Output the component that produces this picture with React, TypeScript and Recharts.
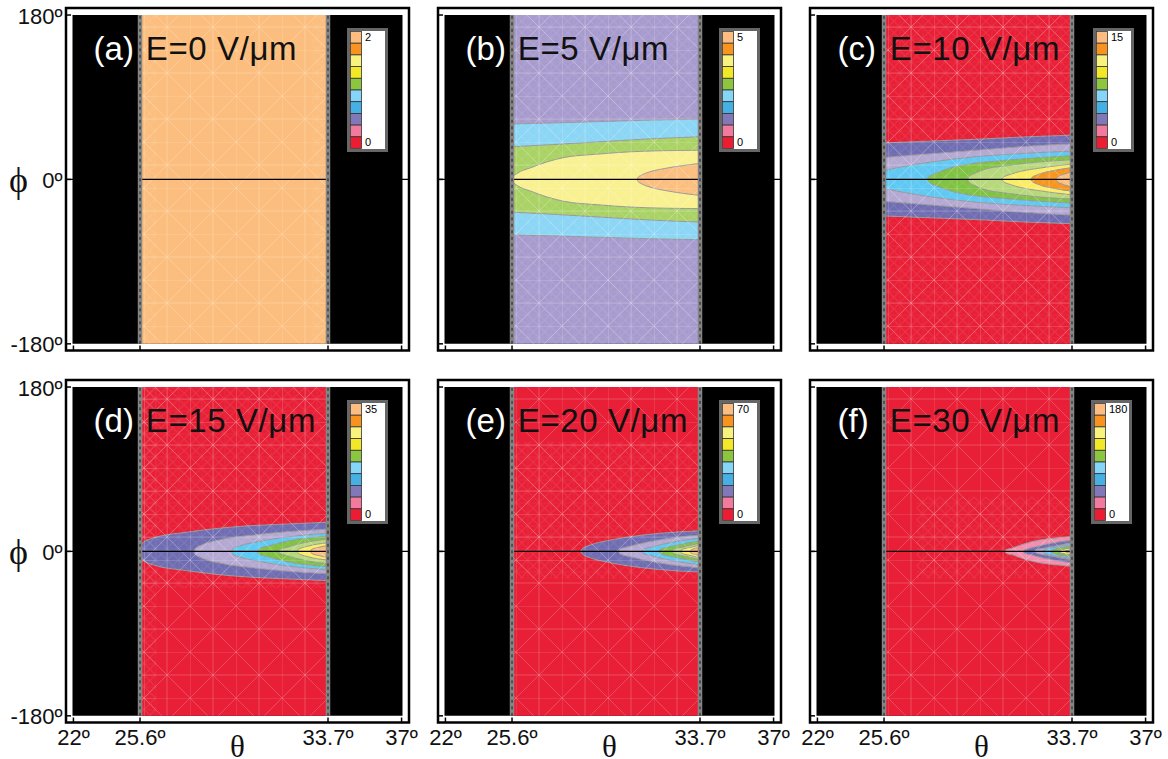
import React from 'react';
import { ComposedChart, Area, XAxis, YAxis, ReferenceLine, ReferenceArea, ReferenceDot, Legend } from 'recharts';

// Outer ticks are nominal: the plot is only linear between the two cut-off angles
const thetaTicks = [22.73, 25.6, 33.7, 36.87];
const thetaLabels = ['22º', '25.6º', '33.7º', '37º'];
const phiTicks = [-180, 0, 180];
const phiLabels = ['-180º', '0º', '180º'];
const thetaRange = [22.69, 36.91];
const thetaEdges = [25.6, 33.7];

const panelNames = ['(a)', '(b)', '(c)', '(d)', '(e)', '(f)'];
const fieldNames = ['E=0 V/μm', 'E=5 V/μm', 'E=10 V/μm', 'E=15 V/μm', 'E=20 V/μm', 'E=30 V/μm'];
const legendTops = ['2', '5', '15', '35', '70', '180'];

// each contour is a list of [theta, half width in phi]
const contoursA: number[][][] = [];
const contoursB = [
  [[25.6, 60.7], [27.6, 62], [29.6, 63.5], [31.6, 65], [33.7, 66]],
  [[25.6, 35.8], [27.6, 38.5], [29.6, 41.5], [31.6, 44.5], [33.7, 46.7]],
  [[25.62, 0], [25.66, 3], [25.82, 6.5], [26.4, 12.8], [27.12, 19.3], [27.84, 24], [29.29, 27.7], [30.73, 30.3], [32.18, 31.5], [33.7, 32]],
  [[31, 0], [31.03, 2.2], [31.14, 4.2], [31.46, 7.7], [32.18, 12], [32.9, 15], [33.7, 17.5]],
];
const contoursC = [
  [[25.6, 40], [27.6, 42], [29.6, 44], [31.6, 46.5], [33.7, 48.5]],
  [[25.6, 24], [27.6, 28], [29.6, 32], [31.6, 36], [33.7, 39]],
  [[25.6, 9.8], [26.2, 13], [27.6, 19], [29.6, 25], [31.6, 28.5], [33.7, 31]],
  [[27.47, 0], [27.51, 2.5], [27.87, 7], [28.6, 13.5], [29.3, 17], [30.76, 20.8], [32.2, 23.7], [33.7, 26]],
  [[29.2, 0], [29.24, 2.5], [29.6, 7.7], [30.03, 11.7], [30.76, 14.6], [32.2, 19], [33.7, 21.5]],
  [[30.68, 0], [30.72, 2], [31.04, 5.5], [31.47, 8.8], [32.2, 12], [32.92, 14.6], [33.7, 16.8]],
  [[31.93, 0], [31.97, 2], [32.2, 5], [32.92, 9.8], [33.7, 13]],
  [[33.02, 0], [33.05, 2], [33.27, 5], [33.7, 8]],
];
const contoursD = [
  [[25.6, 0], [25.62, 4], [25.7, 9], [26.15, 14.6], [27.6, 21], [29.05, 25.5], [30.5, 28.4], [31.9, 30], [33.7, 32]],
  [[27.93, 0], [27.97, 3], [28.2, 6.5], [29.05, 12.8], [30.5, 18], [31.9, 21.5], [33.7, 24.4]],
  [[29.56, 0], [29.6, 3], [29.9, 6.2], [30.5, 9.8], [31.9, 15.7], [33.7, 20]],
  [[30.67, 0], [30.71, 2.5], [31.07, 5.5], [31.9, 11], [33.7, 16.8]],
  [[31.58, 0], [31.62, 2], [31.9, 4.4], [32.65, 9.5], [33.7, 13.5]],
  [[32.37, 0], [32.41, 2], [32.8, 5.5], [33.7, 9.5]],
  [[32.95, 0], [32.98, 2], [33.3, 4.5], [33.7, 6.6]],
];
const contoursE = [
  [[28.57, 0], [28.61, 2.5], [28.97, 7], [29.7, 11.7], [30.4, 15], [31.9, 19.7], [33.7, 22.6]],
  [[30.2, 0], [30.24, 2.5], [30.7, 5.8], [31.9, 12.4], [33.7, 17.9]],
  [[31.2, 0], [31.24, 2], [31.56, 4.4], [32.6, 10.6], [33.7, 14.6]],
  [[31.93, 0], [31.97, 2], [32.6, 6.2], [33.7, 11.7]],
  [[32.5, 0], [32.54, 2], [33.0, 5], [33.7, 9]],
  [[32.88, 0], [32.91, 2], [33.3, 4.5], [33.7, 7]],
  [[33.27, 0], [33.3, 1.5], [33.7, 4.4]],
];
const contoursF = [
  [[30.81, 0], [30.84, 1.5], [31.17, 4], [31.6, 8], [32.3, 12.4], [33, 14.6], [33.7, 16.4]],
  [[31.6, 0], [31.63, 1.5], [31.96, 4], [32.6, 8], [33.7, 12.4]],
  [[32.1, 0], [32.13, 1.5], [32.6, 4], [33.7, 9.5]],
  [[32.46, 0], [32.49, 1.5], [33, 5], [33.7, 7.7]],
  [[32.8, 0], [32.83, 1.5], [33.7, 5.8]],
  [[33.1, 0], [33.13, 1], [33.7, 3.6]],
  [[33.4, 0], [33.43, 0.6], [33.7, 1.8]],
];
const allContours = [contoursA, contoursB, contoursC, contoursD, contoursE, contoursF];

// where the triangular mesh is finest: [theta from, theta to, phi from, phi to]
const fineMesh = [
  [[25.6, 26.3, -180, 180], [33, 33.7, -180, 180]],
  [[25.6, 33.7, -180, 180]],
  [[25.6, 33.7, -180, 180]],
  [[25.6, 33.7, -40, 180], [25.6, 26.3, -180, 180]],
  [[25.6, 33.7, -30, 120]],
  [[27, 33.7, -30, 60]],
];

const PEACH = '#fbbe7e';
const ORANGE = '#f7941e';
const CREAM = '#f9f08f';
const YELLOW = '#fbec64';
const LEAF = '#7fc241';
const LIME = '#b6d87a';
const GRASS = '#a9d264';
const SKY = '#5fc8f2';
const PALE_SKY = '#8bd5f5';
const PURPLE = '#6f6cb2';
const LAVENDER = '#b4a8d3';
const DULL_LAVENDER = '#a79bce';
const PINK = '#f28db0';
const RED = '#e81f36';

const baseColors = [PEACH, DULL_LAVENDER, RED, RED, RED, RED];
const bandColors = [
  [],
  [PALE_SKY, GRASS, CREAM, PEACH],
  [PURPLE, LAVENDER, SKY, LEAF, LIME, YELLOW, ORANGE, PEACH],
  [PURPLE, LAVENDER, SKY, LEAF, LIME, YELLOW, PEACH],
  [PURPLE, LAVENDER, SKY, LEAF, LIME, YELLOW, PEACH],
  [PINK, PURPLE, LAVENDER, SKY, LEAF, YELLOW, PEACH],
];
const legendColors = ['#fdbd80', '#f7931e', '#f8f27f', '#f2e827', '#8cc63f', '#84d5f7', '#45b0e4', '#8078b8', '#f27a9e', '#ec1c33'];

const FRAME_W = 343;
const FRAME_H = 342.5;
const LEFT = 60;
const TOP = 4;
const RIGHT = 30;
const frameLefts = [65.5, 438, 810];
const frameTops = [8, 380];
const SANS = '"Liberation Sans", Arial, sans-serif';
const SERIF = '"Liberation Serif", "DejaVu Serif", serif';

const span = (a: number[], lo = -180, hi = 180) => a.map((theta) => ({ theta, band: [lo, hi] }));
const toBand = (c: number[][]) => c.map(([theta, half]) => ({ theta, band: [-half, half] }));

const ThetaTick = ({ x, y, payload, showLabel }: any) => {
  const i = thetaTicks.indexOf(payload.value);
  return (
    <g>
      <line x1={x} x2={x} y1={y} y2={y - 5} stroke="#000" strokeWidth={1.5} />
      {showLabel && (
        <text x={x} y={y + 22.5} textAnchor="middle" fontSize={22} fontFamily={SANS} fill="#111">
          {thetaLabels[i]}
        </text>
      )}
    </g>
  );
};

const PhiTick = ({ x, y, payload, showLabel }: any) => {
  const i = phiTicks.indexOf(payload.value);
  return (
    <g>
      <line x1={x} x2={x + 5} y1={y} y2={y} stroke="#000" strokeWidth={1.5} />
      {showLabel && (
        <text x={x - 3.5} y={y + 8.5} textAnchor="end" fontSize={22} fontFamily={SANS} fill="#111">
          {phiLabels[i]}
        </text>
      )}
    </g>
  );
};

const ScaleLegend = ({ top }: { top: string }) => (
  <svg width={41} height={124} style={{ display: 'block', opacity: 0.999 }}>
    <rect x={1.5} y={1.5} width={38} height={121} fill="#fff" stroke="#666" strokeWidth={3} />
    {legendColors.map((c, i) => (
      <rect key={c} x={3.5} y={3.5 + i * 11.7} width={11} height={11.7} fill={c} stroke="#333" strokeWidth={0.8} />
    ))}
    <text x={18} y={13} fontSize={11} fontFamily={SANS} fill="#000">{top}</text>
    <text x={18} y={118} fontSize={11} fontFamily={SANS} fill="#000">0</text>
  </svg>
);

const PanelText = ({ cx, cy, value, color, spacing }: any) => (
  <text x={cx} y={cy} fontSize={33} fontFamily={SANS} fill={color} letterSpacing={spacing}>
    {value}
  </text>
);

const Panel = ({ index }: { index: number }) => {
  const col = index % 3;
  const row = Math.floor(index / 3);
  const contours = allContours[index];
  const id = `mesh-${index}`;
  const fineId = `fine-${index}`;
  const areaProps = { dataKey: 'band', dot: false, activeDot: false, isAnimationActive: false, fillOpacity: 1 } as any;
  return (
    <div style={{ position: 'absolute', left: frameLefts[col] - LEFT, top: frameTops[row] - TOP }}>
      <ComposedChart width={FRAME_W + LEFT + RIGHT} height={FRAME_H + TOP + 40} margin={{ top: TOP, right: RIGHT, bottom: 0, left: 0 }}>
        <defs>
          <pattern id={id} width={46} height={46} patternUnits="userSpaceOnUse">
            <path d="M0 0H46M0 23H46M0 0V46M23 0V46M0 0L46 46M46 0L0 46" stroke="#fff" strokeOpacity={0.2} strokeWidth={1} fill="none" />
          </pattern>
          <pattern id={fineId} width={11.5} height={11.5} patternUnits="userSpaceOnUse">
            <path d="M0 0H11.5M0 0V11.5M0 0L11.5 11.5M11.5 0L0 11.5" stroke="#fff" strokeOpacity={0.1} strokeWidth={1} fill="none" />
          </pattern>
        </defs>
        <XAxis
          type="number"
          dataKey="theta"
          domain={[22.41, 37.19]}
          ticks={thetaTicks}
          interval={0}
          allowDataOverflow
          height={40}
          axisLine={false}
          tickLine={false}
          tickSize={0}
          tickMargin={0}
          tick={<ThetaTick showLabel={row === 1} />}
          label={row === 1 ? { value: 'θ', position: 'insideBottom', offset: 6, fontSize: 31, fontFamily: SERIF, fill: '#111' } : undefined}
        />
        <YAxis
          type="number"
          domain={[-187.3, 187.7]}
          ticks={phiTicks}
          interval={0}
          allowDataOverflow
          width={LEFT}
          axisLine={false}
          tickLine={false}
          tickSize={0}
          tickMargin={0}
          tick={<PhiTick showLabel={col === 0} />}
          label={col === 0 ? { value: 'ϕ', position: 'insideLeft', offset: 3, fontSize: 36, fontFamily: SERIF, fill: '#111' } : undefined}
        />
        <Area {...areaProps} data={span(thetaRange)} type="linear" fill="#000" stroke="none" />
        <Area {...areaProps} data={span(thetaEdges)} type="linear" fill={baseColors[index]} stroke="none" />
        {contours.map((c, i) => (
          <Area {...areaProps} key={i} data={toBand(c)} type="monotone" fill={bandColors[index][i]} stroke="#999" strokeWidth={1} />
        ))}
        <Area {...areaProps} data={span(thetaEdges)} type="linear" fill={`url(#${id})`} stroke="none" />
        {fineMesh[index].map(([t0, t1, lo, hi], i) => (
          <Area {...areaProps} key={`f${i}`} data={span([t0, t1], lo, hi)} type="linear" fill={`url(#${fineId})`} stroke="none" />
        ))}
        <ReferenceLine y={0} stroke="#000" strokeWidth={1.2} />
        {thetaEdges.map((t) => (
          <ReferenceLine key={t} segment={[{ x: t, y: -180 }, { x: t, y: 180 }]} stroke="#858585" strokeWidth={4.5} />
        ))}
        {thetaEdges.map((t) => (
          <ReferenceLine key={`d${t}`} segment={[{ x: t, y: -180 }, { x: t, y: 180 }]} stroke="#111" strokeWidth={0.9} strokeDasharray="3 3.5" />
        ))}
        <ReferenceArea x1={22.41} x2={37.19} y1={-187.3} y2={187.7} fill="none" stroke="#000" strokeWidth={2.5} />
        <ReferenceDot x={23.6} y={130.8} r={0} shape={(p: any) => <PanelText {...p} value={panelNames[index]} color="#fff" spacing={0} />} />
        <ReferenceDot x={25.85} y={130.8} r={0} shape={(p: any) => <PanelText {...p} value={fieldNames[index]} color="#111" spacing={0.6} />} />
        <Legend
          layout="horizontal"
          align="center"
          verticalAlign="middle"
          content={() => <ScaleLegend top={legendTops[index]} />}
          wrapperStyle={{ position: 'absolute', left: LEFT + 281 + (index === 2 ? 2 : 0), top: TOP + 20, width: 41, height: 124, margin: 0 }}
        />
      </ComposedChart>
    </div>
  );
};

export default function App() {
  return (
    <div style={{ position: 'absolute', left: 0, top: 0, width: 1168, height: 759, background: '#fff', overflow: 'hidden' }}>
      {panelNames.map((_, i) => (
        <Panel key={i} index={i} />
      ))}
    </div>
  );
}
